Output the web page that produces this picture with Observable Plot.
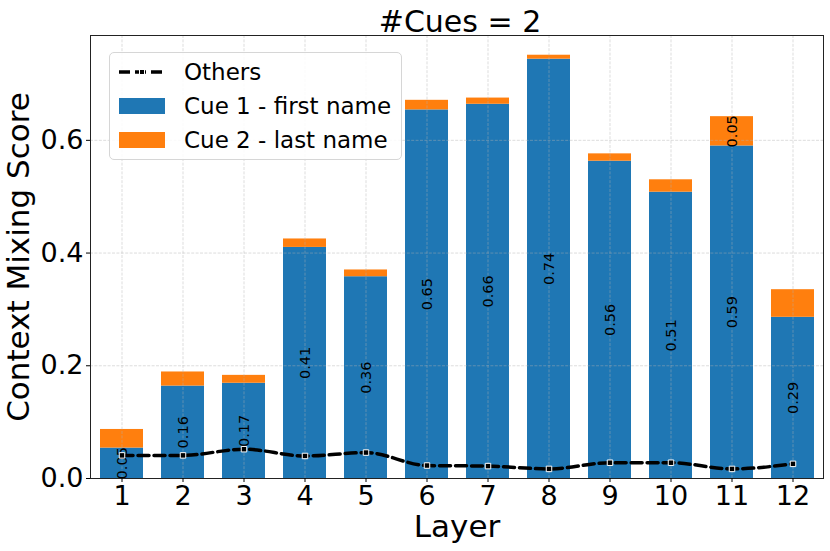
<!DOCTYPE html>
<html>
<head>
<meta charset="utf-8">
<script src="https://cdn.jsdelivr.net/npm/d3@7"></script>
<script src="https://cdn.jsdelivr.net/npm/@observablehq/plot@0.6"></script>
<style>
  body { margin: 0; background: white; }
  #wrap { position: relative; width: 830px; height: 551px; font-family: "DejaVu Sans", sans-serif; }
  .legend { position: absolute; left: 109px; top: 52px; width: 293px; height: 108px; border: 1px solid #d6d6d6; border-radius: 5px; background: rgba(255,255,255,0.85); box-sizing: border-box; }
  .row { position: absolute; left: 0; height: 30px; display: flex; align-items: center; }
  .row .txt { position: absolute; left: 74px; font-size: 23px; color: #000; white-space: nowrap; line-height: 30px; }
  .patch { position: absolute; left: 9px; width: 46px; height: 16px; top: 7px; }
</style>
</head>
<body>
<div id="wrap"></div>
<script>
const layers = [1, 2, 3, 4, 5, 6, 7, 8, 9, 10, 11, 12];
const cue1 = [0.054, 0.164, 0.169, 0.410, 0.358, 0.654, 0.664, 0.744, 0.563, 0.508, 0.590, 0.286];
const cue2 = [0.033, 0.025, 0.014, 0.015, 0.012, 0.017, 0.011, 0.007, 0.013, 0.022, 0.052, 0.049];
const others = [0.041, 0.041, 0.052, 0.040, 0.046, 0.023, 0.022, 0.017, 0.028, 0.028, 0.017, 0.026];
const seriesNames = ["Cue 1 - first name", "Cue 2 - last name"];
const seriesColors = ["#1f77b4", "#ff7f0e"];
const yTicks = [0, 0.2, 0.4, 0.6];
const titleText = "#Cues = 2";
const xLabel = "Layer";
const yLabel = "Context Mixing Score";

const table = [];
layers.forEach((l, i) => {
  table.push({layer: l, series: seriesNames[0], value: cue1[i]});
  table.push({layer: l, series: seriesNames[1], value: cue2[i]});
});
const labels = [];
layers.forEach((l, i) => {
  labels.push({layer: l, y: cue1[i] / 2, text: cue1[i].toFixed(2)});
  if (cue2[i] > 0.05) labels.push({layer: l, y: cue1[i] + cue2[i] / 2, text: cue2[i].toFixed(2)});
});
const othersData = layers.map((l, i) => ({layer: l, value: others[i]}));

const gridStyle = {stroke: "#b0b0b0", strokeOpacity: 0.55, strokeWidth: 0.8, strokeDasharray: "3,1.4"};

const chart = Plot.plot({
  width: 830,
  height: 551,
  marginLeft: 90,
  marginRight: 7,
  marginTop: 35,
  marginBottom: 73,
  style: {fontFamily: "DejaVu Sans, sans-serif", background: "white", color: "black", overflow: "visible"},
  x: {type: "band", domain: layers, paddingInner: 0.3, paddingOuter: 0.15, align: 0.5, label: null},
  y: {domain: [0, 0.786], label: null},
  color: {domain: seriesNames, range: seriesColors},
  marks: [
    Plot.barY(table, {x: "layer", y: "value", fill: "series", order: seriesNames}),
    Plot.gridX({...gridStyle}),
    Plot.gridY(yTicks, {...gridStyle}),
    Plot.text(labels, {x: "layer", y: "y", text: "text", rotate: -90, fontSize: 14.5, fill: "black"}),
    Plot.line(othersData, {x: "layer", y: "value", stroke: "black", strokeWidth: 3.5, strokeDasharray: "11,5", curve: "monotone-x"}),
    Plot.dot(othersData, {x: "layer", y: "value", symbol: "square", r: 3.1, fill: "black", stroke: "white", strokeWidth: 1}),
    Plot.frame({stroke: "#222", strokeWidth: 1}),
    Plot.axisY(yTicks, {tickFormat: d => d.toFixed(1), fontSize: 27, tickSize: 4, tickPadding: 3, label: null}),
    Plot.axisX({fontSize: 27, tickSize: 4, tickPadding: 3, label: null}),
    Plot.text([titleText], {text: d => d, frameAnchor: "top", dy: -13, fontSize: 30, textAnchor: "middle", lineAnchor: "middle", dx: 3}),
    Plot.text([xLabel], {text: d => d, frameAnchor: "bottom", dy: 49, fontSize: 31, textAnchor: "middle", lineAnchor: "middle"}),
    Plot.text([yLabel], {text: d => d, frameAnchor: "left", dx: -71, rotate: -90, fontSize: 31, textAnchor: "middle", lineAnchor: "middle"})
  ]
});
const wrap = document.getElementById("wrap");
wrap.appendChild(chart);

const legend = document.createElement("div");
legend.className = "legend";
const rowsTop = [4, 38, 72];
const r0 = document.createElement("div");
r0.className = "row"; r0.style.top = rowsTop[0] + "px"; r0.style.width = "100%";
r0.innerHTML = `<svg width="60" height="30" style="position:absolute;left:0;top:0"><line x1="9" x2="55" y1="15" y2="15" stroke="black" stroke-width="3.5" stroke-dasharray="11,5"/><rect x="29.5" y="12.5" width="5" height="5" fill="black" stroke="white" stroke-width="1"/></svg><span class="txt">Others</span>`;
legend.appendChild(r0);
seriesNames.forEach((name, i) => {
  const r = document.createElement("div");
  r.className = "row"; r.style.top = rowsTop[i + 1] + "px"; r.style.width = "100%";
  r.innerHTML = `<div class="patch" style="background:${seriesColors[i]}"></div><span class="txt">${name}</span>`;
  legend.appendChild(r);
});
wrap.appendChild(legend);
</script>
</body>
</html>
